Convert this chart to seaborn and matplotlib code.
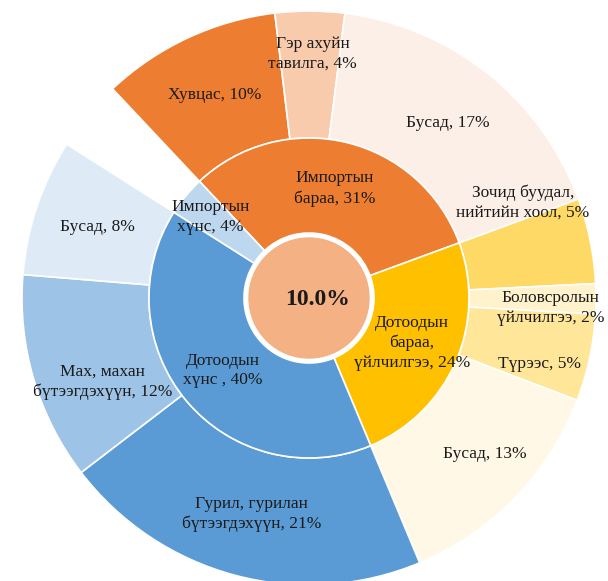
import numpy as np
import matplotlib
matplotlib.use("Agg")
import matplotlib.pyplot as plt
import seaborn as sns

sns.set_theme(style="white")
plt.rcParams['font.family'] = ['Liberation Serif', 'DejaVu Serif']

# inner ring: main groups (percent)
inner_labels = ["Импортын\nбараа, 31%", "Дотоодын\nбараа,\nүйлчилгээ, 24%",
                "Дотоодын\nхүнс , 40%", "Импортын\nхүнс, 4%"]
inner_values = [31.4, 24.3, 40.3, 4.0]
inner_colors = ["#ED7D31", "#FFC000", "#5B9BD5", "#BDD7EE"]

# outer ring: sub categories (last one is the empty slot for imported food)
outer_labels = ["Хувцас, 10%", "Гэр ахуйн\nтавилга, 4%", "Бусад, 17%",
                "Зочид буудал,\nнийтийн хоол, 5%", "Боловсролын\nүйлчилгээ, 2%",
                "Түрээс, 5%", "Бусад, 13%",
                "Гурил, гурилан\nбүтээгдэхүүн, 21%", "Мах, махан\nбүтээгдэхүүн, 12%",
                "Бусад, 8%", ""]
outer_values = [10.1, 3.9, 17.4, 4.8, 1.7, 4.9, 12.9, 20.9, 11.7, 7.7, 4.0]
outer_colors = ["#ED7D31", "#F8CBAD", "#FCEFE8",
                "#FFD966", "#FFF2CC", "#FFE699", "#FFF8E6",
                "#5B9BD5", "#9DC3E6", "#DEEBF7", "none"]

center_text = "10.0%"

# layout in pixels
W, H = 608, 581
cx, cy = 309, 298
R = 287.0
r_mid = 160 / R
r_hole = 65 / R
r_center = 60 / R

fig = plt.figure(figsize=(W / 100, H / 100), dpi=100)
ax = fig.add_axes([0, 0, 1, 1])

start = 133.2
outer_w, _ = ax.pie(outer_values, radius=1.0, colors=outer_colors, startangle=start,
                    counterclock=False, normalize=True,
                    wedgeprops=dict(width=1.0 - r_mid, edgecolor="white", linewidth=1.2))
outer_w[-1].set_edgecolor("none")
inner_w, _ = ax.pie(inner_values, radius=r_mid, colors=inner_colors, startangle=start,
                    counterclock=False, normalize=True,
                    wedgeprops=dict(width=r_mid - r_hole, edgecolor="white", linewidth=1.2))
ax.add_patch(plt.Circle((0, 0), r_center, color="#F4B183", zorder=3))
ax.text(0.03, -0.005, center_text, ha="center", va="center", fontsize=17,
        fontweight="bold", color="#1a1a1a", zorder=4)
ax.set_xlim(-cx / R, (W - cx) / R)
ax.set_ylim(-(H - cy) / R, cy / R)
ax.set_aspect("equal")
ax.axis("off")

# label nudges (pixels: right, down)
outer_shift = {1: (3, -21), 3: (-5, -51), 4: (18, 9), 5: (12, 19), 6: (15, 0), 8: (8, 21)}
inner_shift = {3: (-12, -9)}


def put_labels(wedges, labels, r_in, r_out, shifts):
    rr = (r_in + r_out) / 2
    for i, (w, lab) in enumerate(zip(wedges, labels)):
        if not lab:
            continue
        a = np.deg2rad((w.theta1 + w.theta2) / 2)
        dx, dy = shifts.get(i, (0, 0))
        x = rr * np.cos(a) + dx / R
        y = rr * np.sin(a) - dy / R
        ax.text(x, y, lab, ha="center", va="center", fontsize=12.5,
                color="#1a1a1a", linespacing=1.3, zorder=5)


put_labels(outer_w, outer_labels, r_mid, 1.0, outer_shift)
put_labels(inner_w, inner_labels, r_hole, r_mid, inner_shift)

fig.savefig("out.png", dpi=100, facecolor="white")
